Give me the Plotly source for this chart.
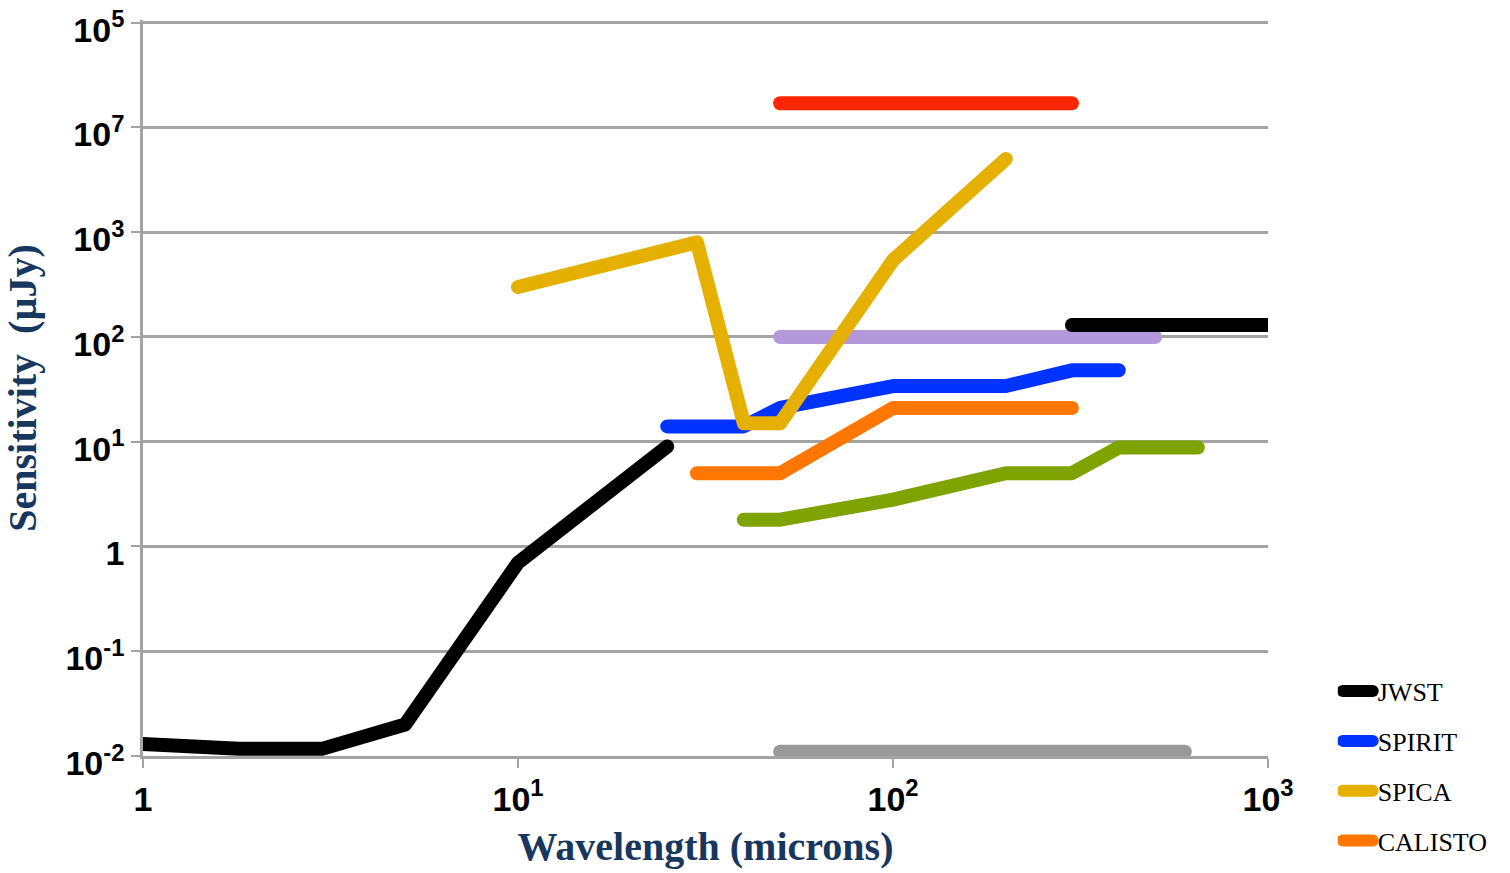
import plotly.graph_objects as go

# ---- data ----
jwst_x = [1, 1.8, 3, 5, 10, 25]
jwst_y = [0.013, 0.0117, 0.0117, 0.02, 0.7, 9]

spirit_x = [25, 40, 50, 100, 200, 300, 400]
spirit_y = [14, 14, 21, 34, 34, 48, 48]

spica_x = [10, 30, 40, 50, 100, 200]
spica_y = [300, 800, 15, 15, 540, 5000]

calisto_x = [30, 50, 100, 300]
calisto_y = [5, 5, 21, 21]

green_x = [40, 50, 100, 200, 300, 400, 650]
green_y = [1.8, 1.8, 2.8, 5, 5, 8.8, 8.8]

red_x = [50, 300]
red_y = [17000, 17000]

purple_x = [50, 500]
purple_y = [100, 100]

black2_x = [300, 1000]
black2_y = [130, 130]

grey_x = [50, 600]
grey_y = [0.011, 0.011]

y_tickvals = [0.01, 0.1, 1, 10, 100, 1000, 1e4, 1e5]
y_ticktext = ["10<sup>-2</sup>", "10<sup>-1</sup>", "1", "10<sup>1</sup>", "10<sup>2</sup>",
              "10<sup>3</sup>", "10<sup>7</sup>", "10<sup>5</sup>"]
x_tickvals = [1, 10, 100, 1000]
x_ticktext = ["1", "10<sup>1</sup>", "10<sup>2</sup>", "10<sup>3</sup>"]

LW = 14
fig = go.Figure()

def add(x, y, color, name, show):
    fig.add_trace(go.Scatter(x=x, y=y, mode="lines", name=name, showlegend=show,
                             legendgroup=name,
                             line=dict(color=color, width=LW)))

# background (unlabelled) series first
add(red_x, red_y, "#ff2600", "s_red", False)
add(purple_x, purple_y, "#b398db", "s_purple", False)
add(grey_x, grey_y, "#999999", "s_grey", False)
add(green_x, green_y, "#7fa300", "s_green", False)
add(calisto_x, calisto_y, "#ff7700", "CALISTO", True)
add(spirit_x, spirit_y, "#0033ff", "SPIRIT", True)
add(spica_x, spica_y, "#e5b000", "SPICA", True)
add(black2_x, black2_y, "#000000", "s_black", False)
add(jwst_x, jwst_y, "#000000", "JWST", True)

# legend order
order = {"JWST": 1, "SPIRIT": 2, "SPICA": 3, "CALISTO": 4}
for tr in fig.data:
    if tr.name in order:
        tr.legendrank = order[tr.name]

grid = "#a3a3a3"
tickfont = dict(family="Liberation Sans, Arial, sans-serif", size=34, color="black", weight="bold")
titlefont = dict(family="Liberation Serif, Times New Roman, serif", size=40, color="#17375e", weight="bold")

fig.update_layout(
    width=1510, height=873,
    margin=dict(l=143, r=242, t=20, b=117, autoexpand=False),
    plot_bgcolor="white", paper_bgcolor="white",
    showlegend=True,
    legend=dict(x=1.062, xanchor="left", y=0.12, yanchor="top",
                font=dict(family="Liberation Serif, Times New Roman, serif", size=26, color="black"),
                tracegroupgap=13, bgcolor="rgba(0,0,0,0)"),
    xaxis=dict(type="log", range=[0, 3], tickvals=x_tickvals, ticktext=x_ticktext,
               showgrid=False, showline=True, linecolor=grid, linewidth=2.5,
               ticks="outside", ticklen=9, tickcolor=grid, tickwidth=2,
               tickfont=tickfont, ticklabelstandoff=2, ticklabeloverflow="allow",
               zeroline=False,
               title=dict(text="Wavelength (microns)", standoff=16, font=titlefont)),
    yaxis=dict(type="log", range=[-2, 5.025], tickvals=y_tickvals, ticktext=y_ticktext,
               showgrid=True, gridcolor=grid, gridwidth=2.5,
               showline=True, linecolor=grid, linewidth=2.5,
               ticks="outside", ticklen=9, tickcolor=grid, tickwidth=2,
               tickfont=tickfont, ticklabeloverflow="allow", ticklabelshift=7,
               zeroline=False, automargin=True,
               title=dict(text="Sensitivity  (µJy)", standoff=23, font=titlefont)),
)

post = """
document.body.style.margin = '0';
var s = document.createElement('style');
s.innerHTML = '.js-line {stroke-linecap: round !important; stroke-linejoin: round !important;} ' +
              '.legendlines path {stroke-linecap: round !important; stroke-width: 12px !important;}';
document.head.appendChild(s);
"""
fig.write_html("out.html", post_script=post, config={"displayModeBar": False})
